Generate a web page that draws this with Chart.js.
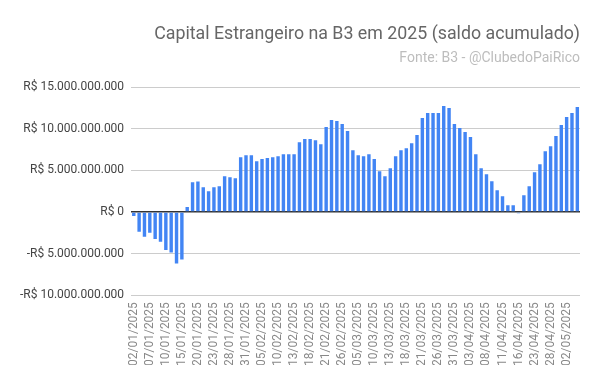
<!DOCTYPE html>
<html>
<head>
<meta charset="utf-8">
<script src="https://cdn.jsdelivr.net/npm/chart.js@4"></script>
<style>
  html, body { margin: 0; padding: 0; background: #fff; }
  #wrap { width: 600px; height: 385px; }
</style>
</head>
<body>
<div id="wrap"><canvas id="capitalChart"></canvas></div>
<script>
// pregões de 2025
const dates = [
    '02/01/2025', '03/01/2025', '06/01/2025', '07/01/2025', '08/01/2025', '09/01/2025', '10/01/2025',
    '13/01/2025', '14/01/2025', '15/01/2025', '16/01/2025', '17/01/2025', '20/01/2025', '21/01/2025',
    '22/01/2025', '23/01/2025', '24/01/2025', '27/01/2025', '28/01/2025', '29/01/2025', '30/01/2025',
    '31/01/2025',
    '03/02/2025', '04/02/2025', '05/02/2025', '06/02/2025', '07/02/2025', '10/02/2025', '11/02/2025',
    '12/02/2025', '13/02/2025', '14/02/2025', '17/02/2025', '18/02/2025', '19/02/2025', '20/02/2025',
    '21/02/2025', '24/02/2025', '25/02/2025', '26/02/2025', '27/02/2025', '28/02/2025',
    '05/03/2025', '06/03/2025', '07/03/2025', '10/03/2025', '11/03/2025', '12/03/2025', '13/03/2025',
    '14/03/2025', '17/03/2025', '18/03/2025', '19/03/2025', '20/03/2025', '21/03/2025', '24/03/2025',
    '25/03/2025', '26/03/2025', '27/03/2025', '28/03/2025', '31/03/2025',
    '01/04/2025', '02/04/2025', '03/04/2025', '04/04/2025', '07/04/2025', '08/04/2025', '09/04/2025',
    '10/04/2025', '11/04/2025', '14/04/2025', '15/04/2025', '16/04/2025', '17/04/2025', '22/04/2025',
    '23/04/2025', '24/04/2025', '25/04/2025', '28/04/2025', '29/04/2025', '30/04/2025',
    '02/05/2025', '05/05/2025', '06/05/2025'
];

// saldo acumulado em bilhões de R$
const saldoBi = [
    -0.48, -2.38, -2.98, -2.50, -3.25, -3.57, -4.56, -4.88, -6.19, -5.71,
    0.60, 3.57, 3.65, 2.98, 2.50, 2.98, 3.10, 4.29, 4.17, 4.05,
    6.59, 6.83, 6.83, 6.10, 6.35, 6.47, 6.59, 6.71, 6.95, 6.95,
    6.95, 8.39, 8.76, 8.76, 8.63, 8.15, 10.20, 11.04, 10.92, 10.56,
    9.72, 7.43, 6.83, 6.71, 6.95, 6.35, 4.90, 4.30, 5.26, 6.71,
    7.43, 7.67, 8.27, 9.24, 11.29, 11.89, 11.89, 11.89, 12.73, 12.49,
    10.56, 10.08, 9.60, 9.00, 6.95, 5.26, 4.54, 3.69, 2.61, 1.89,
    0.80, 0.80, -0.16, 2.01, 3.09, 4.78, 5.74, 7.31, 7.91, 9.12,
    10.44, 11.41, 11.89, 12.61
];

const yTicks = [-10e9, -5e9, 0, 5e9, 10e9, 15e9];

const saldo = saldoBi.map(v => v * 1e9);

function formatBRL(value) {
    const txt = Math.abs(value).toLocaleString('pt-BR');
    return (value < 0 ? '-R$ ' : 'R$ ') + txt;
}

const ctx = document.getElementById('capitalChart').getContext('2d');

new Chart(ctx, {
    type: 'bar',
    data: {
        labels: dates,
        datasets: [{
            label: 'Saldo acumulado',
            data: saldo,
            backgroundColor: '#4285f4',
            borderWidth: 0,
            barPercentage: 0.64,
            categoryPercentage: 1.0
        }]
    },
    options: {
        responsive: true,
        maintainAspectRatio: false,
        animation: false,
        layout: {
            padding: { left: 13, right: 20, top: 0, bottom: 20 }
        },
        plugins: {
            legend: { display: false },
            tooltip: { enabled: false },
            title: {
                display: true,
                text: 'Capital Estrangeiro na B3 em 2025 (saldo acumulado)',
                align: 'end',
                color: '#666666',
                font: { family: 'Roboto', size: 17.8, weight: 'normal' },
                padding: { top: 24, bottom: 5 }
            },
            subtitle: {
                display: true,
                text: 'Fonte: B3 - @ClubedoPaiRico',
                align: 'end',
                color: '#bdbdbd',
                font: { family: 'Roboto', size: 14, weight: 'normal' },
                padding: { top: 0, bottom: 20 }
            }
        },
        scales: {
            x: {
                grid: { display: false },
                border: { display: false },
                ticks: {
                    autoSkip: false,
                    maxRotation: 90,
                    minRotation: 90,
                    color: '#888888',
                    font: { family: 'Roboto', size: 12 },
                    padding: -1,
                    callback: function (value, index) {
                        return index % 3 === 0 ? dates[index] : '';
                    }
                }
            },
            y: {
                min: yTicks[0],
                max: yTicks[yTicks.length - 1],
                afterBuildTicks: axis => {
                    axis.ticks = yTicks.map(v => ({ value: v }));
                },
                border: { display: false },
                grid: {
                    color: c => c.tick && c.tick.value === 0 ? '#333333' : '#cccccc',
                    lineWidth: c => c.tick && c.tick.value === 0 ? 1.5 : 1,
                    drawTicks: false
                },
                ticks: {
                    color: '#444444',
                    font: { family: 'Roboto', size: 12 },
                    padding: 7,
                    callback: value => formatBRL(value)
                }
            }
        }
    }
});
</script>
</body>
</html>
